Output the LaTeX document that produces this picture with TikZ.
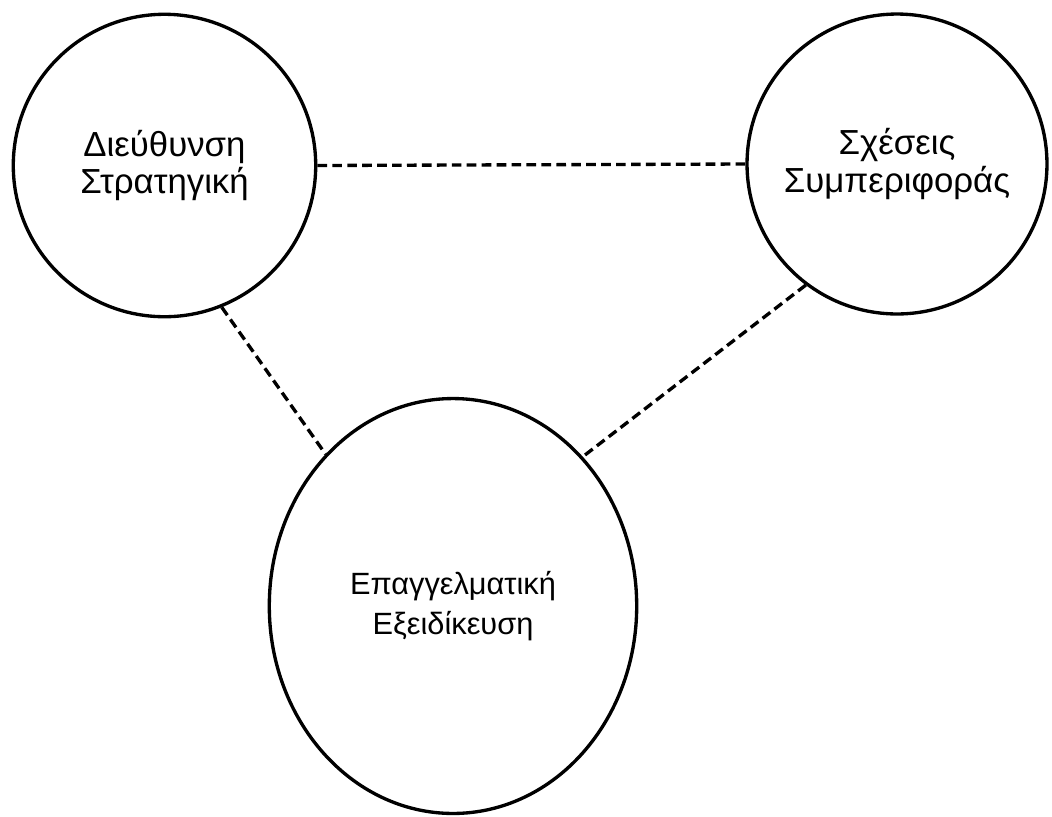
\documentclass[tikz,border=0pt]{standalone}
\usepackage{fontspec}
\setmainfont{Liberation Sans}
\usetikzlibrary{shapes.geometric}

\begin{document}
\begin{tikzpicture}[
    x=0.02cm, y=-0.02cm,
    area/.style={draw, line width=1.9pt, inner sep=0pt, align=center,
        font=\fontsize{19.8}{21.5}\selectfont},
    link/.style={line width=1.9pt, dash pattern=on 5.5pt off 3pt}
]
    \useasboundingbox (0,0) rectangle (1052,816);

    % Areas
    \node[area, circle, minimum size=6.05cm] (strategy) at (164.5,165.5) {Διεύθυνση\\Στρατηγική};
    \node[area, circle, minimum size=6cm] (relations) at (897,164) {Σχέσεις\\Συμπεριφοράς};
    \node[area, ellipse, minimum width=7.35cm, minimum height=8.3cm,
        font=\fontsize{17.5}{23}\selectfont] (expertise) at (453,606) {Επαγγελματική\\Εξειδίκευση};

    % Connections
    \draw[link] (strategy.east) -- (relations.west);
    \draw[link] (strategy.-68.7) -- (expertise.130.3);
    \draw[link] (relations.233) -- (expertise.49.6);
\end{tikzpicture}
\end{document}
